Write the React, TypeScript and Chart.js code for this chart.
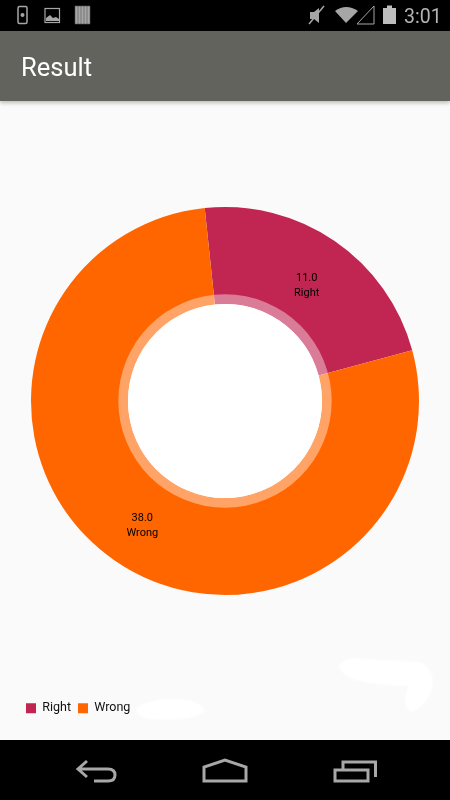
import React, { useEffect, useRef } from "react";
import { Chart, registerables } from "chart.js";

Chart.register(...registerables);

const categories = ["Right", "Wrong"];
const values = [11, 38];
const colors = ["#C12552", "#FF6600"];
const title = "Result";
const clock = "3:01";
const FONT = "Roboto, sans-serif";

const centerPlugin = {
  id: "centerAndLabels",
  afterDatasetsDraw(chart: any) {
    const { ctx } = chart;
    const meta = chart.getDatasetMeta(0);
    const first = meta.data[0];
    const { x, y, innerRadius } = first.getProps(["x", "y", "innerRadius"], true);
    ctx.save();
    ctx.fillStyle = "rgba(255,255,255,0.4)";
    ctx.beginPath();
    ctx.arc(x, y, innerRadius * 1.1, 0, Math.PI * 2);
    ctx.fill();
    ctx.fillStyle = "#ffffff";
    ctx.beginPath();
    ctx.arc(x, y, innerRadius, 0, Math.PI * 2);
    ctx.fill();
    ctx.fillStyle = "#000000";
    ctx.font = `11px ${FONT}`;
    ctx.textAlign = "center";
    ctx.textBaseline = "middle";
    meta.data.forEach((arc: any, i: number) => {
      const p = arc.tooltipPosition();
      ctx.fillText(values[i].toFixed(1), p.x - 0.5, p.y - 3);
      ctx.fillText(categories[i], p.x - 0.5, p.y + 12);
    });
    ctx.restore();
  },
};

export default function App() {
  const ref = useRef<HTMLCanvasElement | null>(null);
  useEffect(() => {
    document.body.style.margin = "0";
    const chart = new Chart(ref.current as HTMLCanvasElement, {
      type: "doughnut",
      data: {
        labels: categories,
        datasets: [{ data: values, backgroundColor: colors, borderWidth: 0 }],
      },
      options: {
        responsive: false,
        animation: false,
        rotation: -6,
        radius: 194,
        cutout: "50%",
        layout: { padding: { top: 6, bottom: 15.5, left: 19, right: 19 } },
        plugins: {
          tooltip: { enabled: false },
          legend: {
            position: "bottom",
            align: "start",
            labels: {
              boxWidth: 10,
              boxHeight: 10,
              padding: 7,
              color: "#111111",
              font: { family: FONT, size: 12.5 },
            },
          },
        },
      },
      plugins: [centerPlugin],
    } as any);
    return () => chart.destroy();
  }, []);

  const grey = "#a6a6a6";
  return (
    <div style={{ position: "absolute", left: 0, top: 0, width: 450, height: 800, overflow: "hidden", background: "#fafafa", fontFamily: FONT }}>
      <div style={{ position: "absolute", left: 0, top: 0, width: 450, height: 31, background: "#000" }} />
      <div style={{ position: "absolute", left: 0, top: 31, width: 450, height: 70, background: "#62635c", boxShadow: "0 2px 4px rgba(0,0,0,0.25)", zIndex: 1 }}>
        <div style={{ position: "absolute", left: 21, top: 21, color: "#fff", fontSize: 25.5, lineHeight: "30px" }}>{title}</div>
      </div>
      <svg style={{ position: "absolute", left: 0, top: 0, zIndex: 2 }} width="450" height="31">
        <rect x="18" y="6.5" width="9" height="17" rx="1.5" fill="none" stroke={grey} strokeWidth="1.5" />
        <circle cx="22.5" cy="15" r="2" fill={grey} />
        <rect x="45" y="8.5" width="14.5" height="14" fill="none" stroke={grey} strokeWidth="1.2" />
        <path d="M46 21 V18 L50 15 L53 18 L56 17 L59 19 V21 Z" fill={grey} />
        <path d="M75 6 H90 V24 H75 Z M78 6 V24 M81 6 V24 M84 6 V24 M87 6 V24" fill={grey} stroke="#555" strokeWidth="0.6" />
        <path d="M310 12 H314 L319 8 V23 L314 19 H310 Z" fill={grey} />
        <path d="M309 24 L324 6" stroke={grey} strokeWidth="1.5" />
        <path d="M335 11 Q346 3 358 11 L346 23 Z" fill={grey} />
        <path d="M357 24 L374 6 V24 Z" fill="none" stroke={grey} strokeWidth="1" />
        <rect x="383" y="8" width="13" height="16" fill="#bdbdbd" />
        <rect x="387" y="5.5" width="5" height="3" fill="#bdbdbd" />
        <text x="404" y="23" fontSize="19.5" fill="#b4b4b4" fontFamily={FONT}>{clock}</text>
      </svg>
      <canvas ref={ref} width={450} height={639} style={{ position: "absolute", left: 0, top: 101, display: "block" }} />
      <svg style={{ position: "absolute", left: 0, top: 650 }} width="450" height="90">
        <defs>
          <filter id="soft"><feGaussianBlur stdDeviation="1.2" /></filter>
        </defs>
        <g filter="url(#soft)">
          <path d="M136 59 Q150 46 190 50 Q205 56 204 62 Q190 72 150 69 Q138 68 136 59 Z" fill="#fff" />
          <path d="M339 16 Q344 6 365 9 L420 12 Q433 18 433 35 Q428 55 412 62 Q403 58 406 45 L408 36 Q380 36 355 30 Q340 24 339 16 Z" fill="#fff" />
        </g>
      </svg>
      <div style={{ position: "absolute", left: 0, top: 740, width: 450, height: 60, background: "#000" }} />
      <svg style={{ position: "absolute", left: 0, top: 740 }} width="450" height="60" fill="none" stroke="#a8a8a8" strokeWidth="3">
        <path d="M87 21 L78 29 L87 37 M78 29 H108 Q115 29 115 35 Q115 41 108 41 H94" />
        <path d="M204 41 V27 L225 20 L246 27 V41 Z" />
        <path d="M335 30 H368 V41 H335 Z M343 30 V22 H375.5 V37" />
      </svg>
    </div>
  );
}
